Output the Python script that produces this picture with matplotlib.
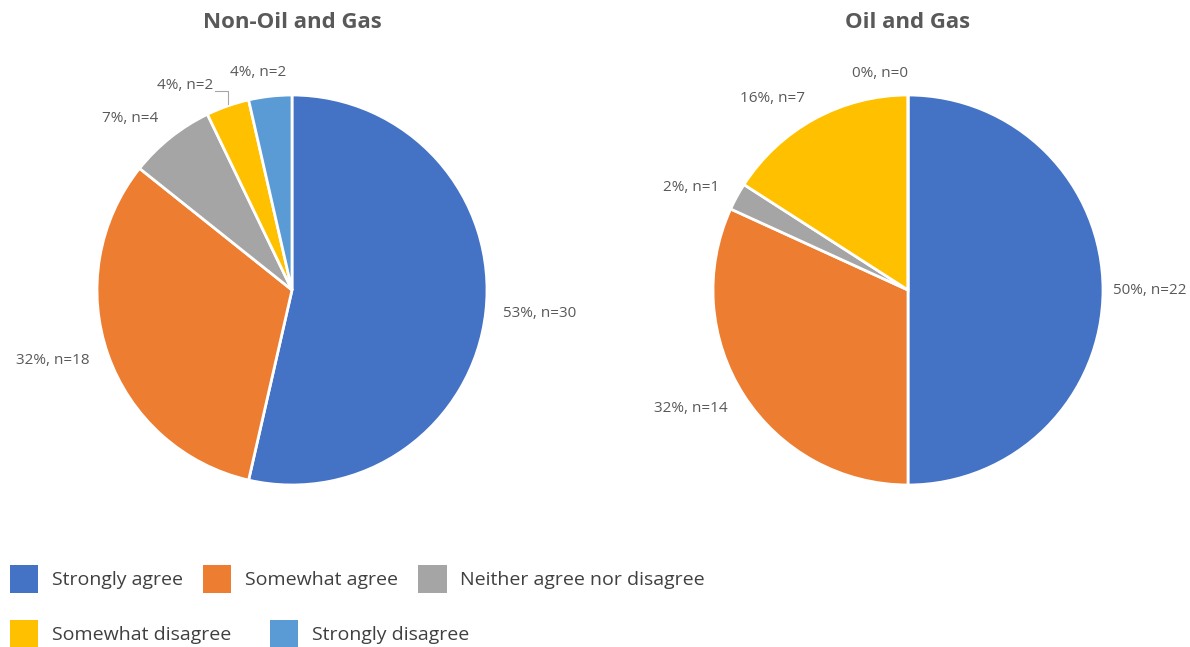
import numpy as np
import matplotlib
matplotlib.use("Agg")
import matplotlib.pyplot as plt
from matplotlib.patches import Patch

plt.rcParams['font.family'] = ['Open Sans', 'DejaVu Sans']

# Survey responses
categories = ["Strongly agree", "Somewhat agree", "Neither agree nor disagree",
              "Somewhat disagree", "Strongly disagree"]
colors = ["#4472C4", "#ED7D31", "#A5A5A5", "#FFC000", "#5B9BD5"]

non_oil_counts = [30, 18, 4, 2, 2]
non_oil_pct = [53, 32, 7, 4, 4]

oil_counts = [22, 14, 1, 7, 0]
oil_pct = [50, 32, 2, 16, 0]

W, H = 1190, 647
DPI = 100
fig = plt.figure(figsize=(W / DPI, H / DPI), dpi=DPI)
fig.patch.set_facecolor("white")

R = 195  # pie radius in pixels
LABEL_COLOR = "#595959"


def pie_axes(cx, cy):
    return fig.add_axes([(cx - R) / W, (H - cy - R) / H, 2 * R / W, 2 * R / H])


def draw_pie(ax, counts, pcts, title, label_cfg):
    wedges, _ = ax.pie(counts, colors=colors, startangle=90, counterclock=False,
                       wedgeprops=dict(edgecolor="white", linewidth=2))
    ax.set_xlim(-1, 1)
    ax.set_ylim(-1, 1)
    ax.set_aspect("equal")
    ax.axis("off")
    px = 1.0 / R  # one pixel in data units
    for w, n, p, cfg in zip(wedges, counts, pcts, label_cfg):
        mid = np.deg2rad((w.theta1 + w.theta2) / 2)
        c, s = np.cos(mid), np.sin(mid)
        txt = f"{p}%, n={n}"
        if cfg.get("leader"):
            ex, ey = c, s
            elbow_y = ey + 15 * px
            ax.plot([ex - 13 * px, ex, ex], [elbow_y, elbow_y, ey + 2 * px],
                    color="#A6A6A6", lw=0.8, clip_on=False)
            ax.text(ex - 14 * px, elbow_y + 5 * px, txt, ha="right", va="center",
                    fontsize=11, color=LABEL_COLOR)
            continue
        d = cfg.get("d", 1.1)
        dx, dy = cfg.get("dx", 0), cfg.get("dy", 0)
        ha = cfg.get("ha", "left" if c > 0 else "right")
        ax.text(d * c + dx * px, d * s + dy * px, txt, ha=ha, va="center",
                fontsize=11, color=LABEL_COLOR)
    ax.text(0, 268 * px, title, ha="center", va="center", fontsize=16,
            fontweight="bold", color=LABEL_COLOR)


ax1 = pie_axes(292, 290)
draw_pie(ax1, non_oil_counts, non_oil_pct, "Non-Oil and Gas",
         [dict(d=1.09), dict(d=1.1), dict(d=1.1, dy=4),
          dict(leader=True), dict(d=1.1, ha="center", dx=-10, dy=4)])

ax2 = pie_axes(908, 290)
draw_pie(ax2, oil_counts, oil_pct, "Oil and Gas",
         [dict(d=1.05), dict(d=1.1, dy=-3), dict(d=1.1),
          dict(d=1.1, dy=3), dict(d=1.1, ha="right", dy=2)])

handles = [Patch(facecolor=col, edgecolor="none") for col in colors]
common = dict(frameon=False, fontsize=14, handlelength=1.45, handleheight=1.8,
              handletextpad=0.7, borderpad=0, borderaxespad=0, loc="center left",
              labelcolor="#404040")
leg1 = fig.legend(handles[:3], categories[:3], ncol=3, columnspacing=1.05,
                  bbox_to_anchor=(10 / W, 1 - 579 / H), **common)
leg2 = fig.legend(handles[3:], categories[3:], ncol=2, columnspacing=2.0,
                  bbox_to_anchor=(10 / W, 1 - 634 / H), **common)

fig.savefig("out.png", dpi=DPI, facecolor="white")
